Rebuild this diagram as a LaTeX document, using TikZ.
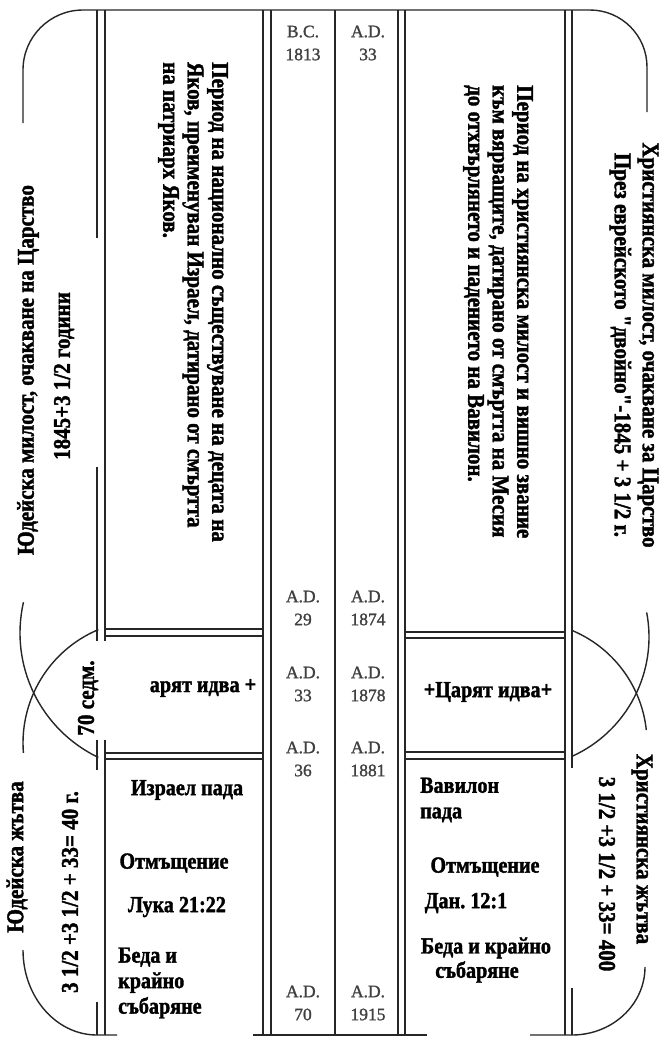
\documentclass[tikz,border=0pt]{standalone}
\usepackage{fontspec}
\setmainfont{Liberation Serif}
\newfontfamily\heavyf{Liberation Serif}[FakeStretch=0.875,BoldFeatures={FakeBold=1.6}]
\newfontfamily\datef{Liberation Serif}[FakeBold=1.3]
\frenchspacing
\tikzset{
  ln/.style={line width=1.4pt, draw=black!85},
  big/.style={font=\heavyf\bfseries\fontsize{24}{24.5}\selectfont, inner sep=0pt},
  datelbl/.style={font=\datef\fontsize{17.5}{23}\selectfont, text=black!75, align=center, inner sep=0pt},
  bot/.style={font=\heavyf\bfseries\fontsize{23}{25.5}\selectfont, inner sep=0pt},
}
\begin{document}
\begin{tikzpicture}[x=1pt,y=1pt,yscale=-1]
\fill[white] (0,0) rectangle (671,1045);
\useasboundingbox (0,0) rectangle (671,1045);
% outer top frame
\draw[ln] (23,123) -- (23,70) arc[start angle=180,end angle=270,radius=60] -- (590,10) arc[start angle=-90,end angle=0,radius=57] -- (647,112);
% left verticals
\draw[ln] (97,10) -- (97,238);
\draw[ln] (97,467) -- (97,641);
\draw[ln] (105,10) -- (105,641);
\draw[ln] (97,740) -- (97,770);
\draw[ln] (105,740) -- (105,1035);
\draw[ln] (97,1002) -- (97,1035);
% left horizontals
\draw[ln] (105,629) -- (263,629);
\draw[ln] (105,636) -- (263,636);
\draw[ln] (105,753) -- (263,753);
\draw[ln] (105,759) -- (263,759);
% middle columns
\foreach \x in {263,271,335,398,405} \draw[ln] (\x,10) -- (\x,1036);
% right horizontals
\draw[ln] (405,632) -- (565,632);
\draw[ln] (405,638) -- (565,638);
\draw[ln] (405,752) -- (565,752);
\draw[ln] (405,759) -- (565,759);
% right verticals
\draw[ln] (565,10) -- (565,1035);
\draw[ln] (572,10) -- (572,768);
\draw[ln] (572,988) -- (572,1035);
% bottom
\draw[ln] (23,950) arc[start angle=180,end angle=90,x radius=74,y radius=85] -- (117,1035);
\draw[ln] (253,1035) -- (427,1035);
\draw[ln] (530,1035) -- (572,1035) arc[start angle=90,end angle=0,x radius=73,y radius=68];
% crossing arcs
\draw[ln] (158,633) ++(192.9:138) arc[start angle=192.9,end angle=115.6,radius=138];
\draw[ln] (146,743) ++(247.2:123) arc[start angle=247.2,end angle=175.4,radius=123];
\draw[ln] (525,743) ++(-67.6:122) arc[start angle=-67.6,end angle=-6.1,radius=122];
\draw[ln] (518,637) ++(-10.8:131) arc[start angle=-10.8,end angle=65.8,radius=131];

% dates
\node[datelbl] (d1) at (303,43) {B.C.\\1813};
\node[datelbl] (d2) at (368,43) {A.D.\\33};
\node[datelbl] (d3) at (303,608) {A.D.\\29};
\node[datelbl] (d4) at (368,608) {A.D.\\1874};
\node[datelbl] (d5) at (303,684) {A.D.\\33};
\node[datelbl] (d6) at (368,684) {A.D.\\1878};
\node[datelbl] (d7) at (303,759) {A.D.\\36};
\node[datelbl] (d8) at (368,759) {A.D.\\1881};
\node[datelbl] (d9) at (303,1003) {A.D.\\70};
\node[datelbl] (d10) at (368,1003) {A.D.\\1915};

% left rotated
\node[big,rotate=90] (jm1) at (28,370) {Юдейска милост, очакване на Царство};
\node[big,rotate=90] (jm2) at (64,376) {1845+3 1/2 години};
\node[big,rotate=90] (sedm) at (88,698) {70 седм.};
\node[big,rotate=90] (jz1) at (17,857) {Юдейска жътва};
\node[big,rotate=90] (jz2) at (70,892) {3 1/2 +3 1/2 + 33= 40 г.};
\node[big,rotate=-90,align=left,anchor=west] (per1) at (193,62) {Период на национално съществуване на децата на\\Яков, преименуван Израел, датирано от смъртта\\на патриарх Яков.};

% right rotated
\node[big,rotate=-90,align=left,anchor=west] (per2) at (498,85) {Период на християнска милост и вишно звание\\към вярващите, датирано от смъртта на Месия\\до отхвърлянето и падението на Вавилон.};
\node[big,rotate=-90,align=center,font=\heavyf\bfseries\fontsize{24}{28}\selectfont] (hm) at (634,345) {Християнска милост, очакване за Царство\\През еврейското "двойно"-1845 + 3 1/2 г.};
\node[big,rotate=-90] (hz1) at (642,849) {Християнска жътва};
\node[big,rotate=-90] (hz2) at (607,874) {3 1/2 +3 1/2 + 33= 400};

% king comes
\node[bot] (k1) at (203,688) {арят идва +};
\node[bot] (k2) at (488,692) {+Царят идва+};

% bottom left
\node[bot] (b1) at (187,790) {Израел пада};
\node[bot] (b2) at (174,863) {Отмъщение};
\node[bot] (b3) at (177,907) {Лука 21:22};
\node[bot,align=left,anchor=west] (b4) at (118,983) {Беда и\\крайно\\събаряне};

% bottom right
\node[bot,align=left,anchor=west] (c1) at (420,800) {Вавилон\\пада};
\node[bot] (c2) at (485,867) {Отмъщение};
\node[bot] (c3) at (466,903) {Дан. 12:1};
\node[bot] (c4) at (486,948) {Беда и крайно};
\node[bot] (c5) at (477,972) {събаряне};
\end{tikzpicture}
\end{document}
